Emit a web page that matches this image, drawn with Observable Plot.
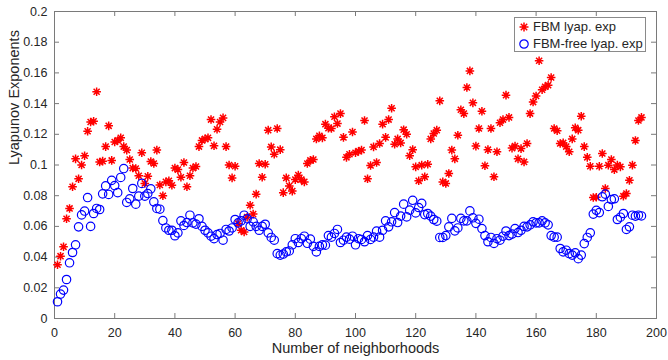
<!DOCTYPE html>
<html>
<head>
<meta charset="utf-8">
<script src="https://cdn.jsdelivr.net/npm/d3@7"></script>
<script src="https://cdn.jsdelivr.net/npm/@observablehq/plot@0.6"></script>
<style>
  body { margin: 0; background: #fff; }
  #chart { position: relative; width: 668px; height: 360px; }
  .legend { position: absolute; left: 514px; top: 17px; width: 132px; height: 35px;
    border: 1px solid #8a8a8a; background: #fff; box-sizing: border-box;
    font: 13px "Liberation Sans", Arial, sans-serif; color: #262626; }
  .legend .row { position: absolute; left: 0; height: 16px; line-height: 16px; white-space: nowrap; }
  .legend svg { position: absolute; left: 2px; top: 1px; }
  .legend span { position: absolute; left: 18px; top: 0; }
</style>
</head>
<body>
<div id="chart"></div>
<script>
// Series: FBM lyapunov exponent (red asterisks), FBM-free lyapunov exponent (blue circles)
const fbmLyap = [
  0.035, 0.0406, 0.0467, 0.065, 0.0717, 0.0858, 0.104, 0.091, 0.100, 0.106,
  0.122, 0.128, 0.1285, 0.1477, 0.102, 0.1025, 0.112, 0.1255, 0.103, 0.115,
  0.116, 0.1177, 0.112, 0.1097, 0.1036, 0.098, 0.0977, 0.093, 0.108, 0.088,
  0.0927, 0.1023, 0.101, 0.1097, 0.087, 0.080, 0.089, 0.0897, 0.0868, 0.098,
  0.097, 0.092, 0.1016, 0.0858, 0.093, 0.098, 0.099, 0.112, 0.116, 0.117,
  0.1177, 0.1296, 0.1125, 0.1233, 0.128, 0.1307, 0.112, 0.100, 0.0916, 0.0992,
  0.0619, 0.0575, 0.0564, 0.066, 0.0738, 0.068, 0.081, 0.101, 0.092, 0.1005,
  0.1227, 0.1118, 0.107, 0.1238, 0.110, 0.082, 0.0916, 0.0864, 0.083, 0.0905,
  0.0934, 0.0905, 0.089, 0.101, 0.103, 0.1036, 0.117, 0.119, 0.1177, 0.1266,
  0.124, 0.1238, 0.1314, 0.127, 0.1335, 0.118, 0.105, 0.107, 0.1215, 0.108,
  0.109, 0.1097, 0.129, 0.091, 0.0997, 0.1118, 0.1016, 0.114, 0.1266, 0.118,
  0.1296, 0.137, 0.1135, 0.117, 0.1144, 0.123, 0.120, 0.106, 0.110, 0.0988,
  0.0897, 0.0999, 0.0923, 0.1005, 0.117, 0.1205, 0.1227, 0.1418, 0.089, 0.088,
  0.0945, 0.1097, 0.104, 0.1194, 0.136, 0.1335, 0.1505, 0.1613, 0.1405, 0.1123,
  0.1238, 0.135, 0.0995, 0.110, 0.1238, 0.0923, 0.1086, 0.1275, 0.1296, 0.1455,
  0.131, 0.111, 0.1123, 0.104, 0.1107, 0.102, 0.114, 0.1335, 0.141, 0.145,
  0.1679, 0.149, 0.151, 0.152, 0.157, 0.1238, 0.1223, 0.114, 0.1144, 0.112,
  0.1086, 0.117, 0.1242, 0.1227, 0.1318, 0.112, 0.105, 0.0992, 0.0788, 0.079,
  0.0992, 0.1075, 0.0847, 0.0999, 0.1036, 0.097, 0.100, 0.0988, 0.0797, 0.0814,
  0.090, 0.0999, 0.116, 0.129, 0.131
];
const fbmFreeLyap = [
  0.0109, 0.0159, 0.0185, 0.0254, 0.0363, 0.043, 0.048, 0.0597, 0.0675, 0.070,
  0.0788, 0.060, 0.0684, 0.0717, 0.071, 0.0812, 0.0864, 0.0808, 0.090, 0.0866,
  0.082, 0.0919, 0.0977, 0.0756, 0.078, 0.0847, 0.0745, 0.0797, 0.088, 0.0797,
  0.0814, 0.0845, 0.076, 0.0717, 0.0712, 0.0638, 0.059, 0.0575, 0.0575, 0.0539,
  0.0558, 0.0636, 0.0606, 0.0625, 0.0673, 0.0623, 0.0615, 0.065, 0.060, 0.0575,
  0.0558, 0.0536, 0.052, 0.0547, 0.0554, 0.051, 0.058, 0.057, 0.059, 0.0645,
  0.0623, 0.0636, 0.0673, 0.065, 0.060, 0.063, 0.060, 0.0575, 0.060, 0.0614,
  0.0558, 0.0528, 0.051, 0.0423, 0.0413, 0.042, 0.0434, 0.044, 0.048, 0.052,
  0.0495, 0.052, 0.0536, 0.049, 0.0517, 0.047, 0.0434, 0.047, 0.048, 0.0478,
  0.054, 0.053, 0.0554, 0.058, 0.0495, 0.051, 0.053, 0.0517, 0.0536, 0.048,
  0.052, 0.0515, 0.050, 0.054, 0.0515, 0.053, 0.0569, 0.053, 0.0575, 0.0636,
  0.0597, 0.063, 0.069, 0.0625, 0.0667, 0.0745, 0.0662, 0.0706, 0.077, 0.0688,
  0.0723, 0.075, 0.0677, 0.0684, 0.0667, 0.0645, 0.0634, 0.0528, 0.0528, 0.054,
  0.0597, 0.0652, 0.0571, 0.059, 0.0652, 0.0636, 0.0636, 0.0701, 0.0656, 0.062,
  0.0647, 0.0586, 0.054, 0.050, 0.0528, 0.0489, 0.052, 0.051, 0.0536, 0.057,
  0.054, 0.055, 0.0586, 0.056, 0.0575, 0.060, 0.0597, 0.061, 0.063, 0.0623,
  0.0623, 0.0636, 0.0623, 0.061, 0.054, 0.053, 0.053, 0.0456, 0.0434, 0.0445,
  0.0423, 0.0413, 0.0428, 0.039, 0.0413, 0.0488, 0.0528, 0.0558, 0.068, 0.0705,
  0.069, 0.0793, 0.081, 0.073, 0.0775, 0.078, 0.0645, 0.066, 0.0684, 0.058,
  0.0597, 0.0673, 0.0667, 0.0673, 0.0668
];
const seriesNames = ["FBM lyap. exp", "FBM-free lyap. exp"];
const xTicks = [0, 20, 40, 60, 80, 100, 120, 140, 160, 180, 200];
const yTicks = [0, 0.02, 0.04, 0.06, 0.08, 0.1, 0.12, 0.14, 0.16, 0.18, 0.2];
const yTickLabels = ["0", "0.02", "0.04", "0.06", "0.08", "0.1", "0.12", "0.14", "0.16", "0.18", "0.2"];
const xLabel = "Number of neighborhoods";
const yLabel = "Lyapunov Exponents";

const redData = fbmLyap.map((v, i) => ({n: i + 1, v}));
const blueData = fbmFreeLyap.map((v, i) => ({n: i + 1, v}));

// MATLAB-style 8-spoke asterisk
const asterisk8 = {
  draw(ctx, size) {
    const r = Math.sqrt(size / Math.PI);
    const d = r * Math.SQRT1_2;
    ctx.moveTo(-r, 0); ctx.lineTo(r, 0);
    ctx.moveTo(0, -r); ctx.lineTo(0, r);
    ctx.moveTo(-d, -d); ctx.lineTo(d, d);
    ctx.moveTo(-d, d); ctx.lineTo(d, -d);
  }
};

const axisColor = "#7a7a7a";
const textColor = "#262626";
const W = 668, H = 360, mL = 54, mR = 12, mT = 11, mB = 42;
const innerW = W - mL - mR, innerH = H - mT - mB, tk = 5;

const plot = Plot.plot({
  width: W, height: H,
  marginLeft: mL, marginRight: mR, marginTop: mT, marginBottom: mB,
  style: {fontFamily: '"Liberation Sans", Arial, sans-serif', fontSize: "12px", color: textColor, background: "#fff"},
  x: {domain: [0, 200]},
  y: {domain: [0, 0.2]},
  marks: [
    Plot.axisX(xTicks, {tickSize: 0, tickPadding: 10, label: null, fontSize: 12.5, fill: textColor}),
    Plot.axisY(yTicks, {tickSize: 0, tickPadding: 7, label: null, fontSize: 12.5, fill: textColor,
      tickFormat: (d, i) => yTickLabels[i]}),
    Plot.tickX(xTicks, {x: d => d, insetTop: innerH - tk, stroke: axisColor}),
    Plot.tickX(xTicks, {x: d => d, insetBottom: innerH - tk, stroke: axisColor}),
    Plot.tickY(yTicks, {y: d => d, insetRight: innerW - tk, stroke: axisColor}),
    Plot.tickY(yTicks, {y: d => d, insetLeft: innerW - tk, stroke: axisColor}),
    Plot.frame({stroke: axisColor}),
    Plot.dot(redData, {x: "n", y: "v", symbol: asterisk8, r: 4.3, stroke: "#ff0000", fill: "none", strokeWidth: 1.5}),
    Plot.dot(blueData, {x: "n", y: "v", symbol: "circle", r: 4.2, stroke: "#0000ff", fill: "none", strokeWidth: 1.2}),
    Plot.text([xLabel], {frameAnchor: "bottom", dy: 34, fontSize: 14.5, fill: textColor}),
    Plot.text([yLabel], {frameAnchor: "left", dx: -40, rotate: -90, fontSize: 14.5, fill: textColor})
  ]
});

const chart = document.getElementById("chart");
chart.appendChild(plot);

// Legend (inside the axes, top right, as in the reference)
const legend = document.createElement("div");
legend.className = "legend";
const sym = [
  '<svg width="14" height="14"><path d="M2.5,7H11.5M7,2.5V11.5M3.8,3.8L10.2,10.2M3.8,10.2L10.2,3.8" stroke="#ff0000" stroke-width="1.5" fill="none"/></svg>',
  '<svg width="14" height="14"><circle cx="7" cy="7" r="4.2" stroke="#0000ff" stroke-width="1.2" fill="none"/></svg>'
];
seriesNames.forEach((name, i) => {
  const row = document.createElement("div");
  row.className = "row";
  row.style.top = (i === 0 ? 1 : 18) + "px";
  row.innerHTML = sym[i] + "<span></span>";
  row.querySelector("span").textContent = name;
  legend.appendChild(row);
});
chart.appendChild(legend);
</script>
</body>
</html>
